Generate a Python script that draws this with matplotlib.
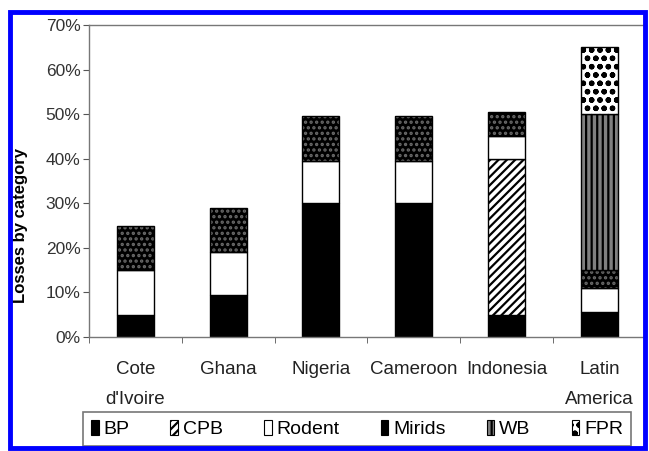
import numpy as np
import matplotlib
matplotlib.use('Agg')
from matplotlib import pyplot as plt
from matplotlib.patches import Patch, Rectangle

plt.rcParams['font.family'] = ['Liberation Sans', 'DejaVu Sans']
plt.rcParams['hatch.linewidth'] = 1.6

regions = ["Cote\nd'Ivoire", 'Ghana', 'Nigeria', 'Cameroon', 'Indonesia', 'Latin\nAmerica']
categories = ['BP', 'CPB', 'Rodent', 'Mirids', 'WB', 'FPR']

# losses (%) per category, stacked bottom -> top in this order
bp = [5, 9.5, 30, 30, 5, 5.5]
cpb = [0, 0, 0, 0, 35, 0]
rodent = [10, 9.5, 9.5, 9.5, 5, 5.5]
mirids = [10, 10, 10, 10, 5.5, 4]
wb = [0, 0, 0, 0, 0, 35]
fpr = [0, 0, 0, 0, 0, 15]

series = [bp, cpb, rodent, mirids, wb, fpr]

# face, hatch, hatch colour
styles = {
    'BP': ('black', None, 'black'),
    'CPB': ('white', '////', 'black'),
    'Rodent': ('white', None, 'black'),
    'Mirids': ('black', '...', '#6a6a6a'),
    'WB': ('#808080', '|||', 'black'),
    'FPR': ('white', 'oo', 'black'),
}

fig = plt.figure(figsize=(6.49, 4.51), dpi=100)
ax = fig.add_axes([0.137, 0.2528, 0.858, 0.6918])

x = np.arange(len(regions))
width = 0.4
bottom = np.zeros(len(regions))
for name, vals in zip(categories, series):
    vals = np.array(vals, dtype=float)
    face, hatch, hcol = styles[name]
    mask = vals > 0
    ax.bar(x[mask], vals[mask], width, bottom=bottom[mask], color=face,
           hatch=hatch, edgecolor=hcol, linewidth=0)
    ax.bar(x[mask], vals[mask], width, bottom=bottom[mask], fill=False,
           edgecolor='black', linewidth=1.0)
    bottom += vals

ax.set_xlim(-0.5, len(regions) - 0.5)
ax.set_ylim(0, 70)
ax.set_yticks(np.arange(0, 71, 10))
ax.set_yticklabels(['{}%'.format(v) for v in range(0, 71, 10)], fontsize=12.5, color='#333333')
ax.set_xticks(np.arange(len(regions) + 1) - 0.5, minor=True)
ax.set_xticks(x)
ax.set_xticklabels(regions, fontsize=13.5, linespacing=2.05, color='#222222')
ax.tick_params(axis='x', which='major', length=0, pad=17)
ax.tick_params(axis='x', which='minor', length=4, direction='out', color='#555555')
ax.tick_params(axis='y', length=4, direction='out', color='#555555', pad=2)
for s in ax.spines.values():
    s.set_color('#777777')
    s.set_linewidth(1.0)
ax.set_ylabel('Losses by category', fontsize=12, fontweight='bold')
ax.yaxis.set_label_coords(-0.11, 0.356)

handles = []
for name in categories:
    face, hatch, hcol = styles[name]
    handles.append(Patch(facecolor=face, hatch=hatch, edgecolor='black', linewidth=0.8))
leg = fig.legend(handles, categories, loc='upper left', ncol=6,
                 bbox_to_anchor=(83 / 649, 1 - 412 / 451, (631 - 83) / 649, 0.0),
                 mode='expand', fontsize=14, frameon=True, fancybox=False,
                 handlelength=0.4, handleheight=0.8, handletextpad=0.25,
                 borderaxespad=0, borderpad=0.4)
leg.get_frame().set_edgecolor('#555555')
leg.get_frame().set_linewidth(1.2)

# blue frame around the picture
fig.patches.append(Rectangle((10 / 649, 1 - 448 / 451), 635 / 649, 436 / 451,
                             transform=fig.transFigure, fill=False,
                             edgecolor='#0000ff', linewidth=3.5, zorder=10))

fig.savefig('out.png', dpi=100)
